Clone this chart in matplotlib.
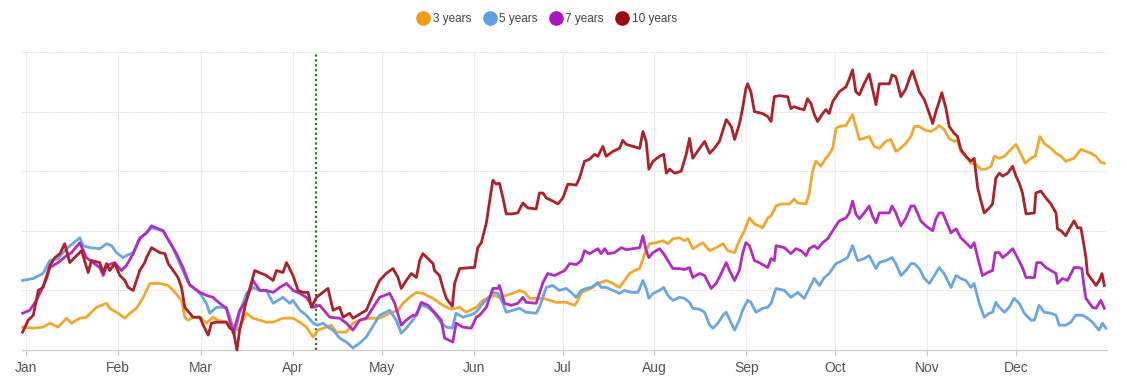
import matplotlib
matplotlib.use("Agg")
import matplotlib.pyplot as plt
from matplotlib.lines import Line2D

# ---- data (day of year, value) ----
months = ["Jan", "Feb", "Mar", "Apr", "May", "Jun", "Jul", "Aug", "Sep", "Oct", "Nov", "Dec"]
month_start = [0, 31, 59, 90, 120, 151, 181, 212, 243, 273, 304, 334]
marker_day = 98

days_3y = [-1.1, 2.5, 5.8, 8.1, 10.9, 13.7, 15.4, 18.2, 20.4, 23.8, 27.2, 28.3, 31.1, 33.4, 35.1, 37.3, 39.6, 41.8, 45.2, 48.0,
           49.7, 52.5, 53.6, 54.7, 56.4, 58.7, 60.9, 63.1, 64.8, 67.6, 69.9, 71.6, 74.4, 76.6, 78.9, 81.1, 83.4, 86.7, 90.1, 92.4,
           94.6, 96.9, 98.5, 101.3, 103.0, 104.7, 108.1, 110.3, 112.6, 116.0,
           119.3, 122.7, 125.5, 127.2, 129.4, 131.7, 133.9, 137.3, 140.6, 143.5, 146.3, 148.5, 151.9, 154.1, 156.4, 158.1, 159.7,
           162.0, 164.2, 166.5, 168.2, 169.9, 172.1, 174.4, 176.6, 178.9,
           182.2, 185.1, 186.2, 187.3, 189.0, 191.2, 192.9, 194.0, 195.7, 198.0, 200.2, 201.9, 203.6, 205.3, 207.0, 208.7, 210.3,
           212.6, 214.8, 216.5, 218.2, 220.4, 222.1, 223.3, 224.9, 226.6, 228.3, 230.6, 232.8, 235.1, 236.7, 239.0,
           240.6, 242.3, 244.0, 245.7, 248.5, 250.2, 251.3, 253.0, 254.6, 257.5, 259.1, 260.3, 263.1, 264.2, 265.3, 266.4, 268.1,
           269.8, 270.9, 272.1, 273.2, 274.3, 276.6, 278.8, 279.9, 281.1, 282.7, 284.4, 286.1, 287.8, 290.0, 291.7, 293.4, 294.5,
           296.8, 298.5, 299.6,
           301.3, 303.5, 305.2, 306.9, 308.0, 309.7, 311.4, 313.1, 314.2, 315.3, 317.0, 318.7, 320.4, 322.1, 323.8, 325.5, 326.6,
           328.3, 330.0, 331.6, 333.9, 335.6, 337.0, 338.9, 340.4, 342.0, 343.4, 345.7, 347.4, 349.1, 350.7, 353.5, 355.8, 357.5,
           359.2, 360.9, 362.5, 363.7]
vals_3y = [23, 22, 23, 27, 23, 32, 27, 32, 33, 43, 47, 42, 37, 32, 37, 42, 53, 67, 67, 65,
           60, 50, 33, 30, 33, 33, 27, 33, 30, 28, 25, 20, 37, 32, 30, 28, 28, 32, 32, 28,
           23, 13, 20, 23, 25, 18, 18, 27, 30, 32,
           32, 37, 40, 47, 53, 58, 57, 52, 45, 41, 43, 38, 43, 50, 53, 55, 53,
           55, 57, 60, 58, 52, 52, 52, 50, 48,
           48, 45, 50, 58, 60, 63, 67, 68, 70, 67, 63, 70, 77, 80, 82, 97, 107,
           108, 110, 107, 112, 113, 110, 112, 102, 105, 108, 100, 103, 107, 100, 98,
           110, 120, 133, 127, 123, 133, 135, 145, 147, 147, 152, 148, 147, 158, 180, 190, 185,
           193, 197, 203, 223, 225, 226, 237, 225, 212, 213, 215, 205, 203, 210, 212, 200, 202,
           208, 215, 225,
           225, 221, 220, 223, 226, 222, 213, 210, 211, 200, 195, 188, 187, 182, 182, 185, 195,
           193, 195, 200, 207, 197, 188, 193, 195, 215, 208, 203, 198, 195, 190, 193, 202, 200,
           198, 195, 189, 188]

days_5y = [-1.1, 2.5, 5.8, 8.1, 10.9, 13.7, 18.2, 19.3, 21.6, 24.9, 27.2, 28.9, 30.6, 32.8, 33.9, 36.2, 38.4, 40.7, 42.4, 46.3,
           49.7, 52.5, 54.7, 56.4, 58.7, 60.9, 62.0, 64.3, 67.6, 68.8, 70.4, 72.1, 74.4, 76.6, 78.9, 81.1, 83.4, 86.7, 89.0, 90.1,
           92.4, 94.6, 96.9, 98.5, 100.2, 101.9, 103.6, 105.8, 108.1, 110.3, 112.6, 114.8,
           119.3, 122.7, 124.9, 126.6, 128.3, 130.5, 133.3, 135.6, 137.8, 140.1, 141.8, 143.8, 145.1, 147.4, 149.6, 151.3, 152.4,
           154.1, 155.8, 157.5, 159.2, 160.9, 162.0, 164.2, 166.5, 168.7, 172.1, 173.2, 175.5, 177.7, 179.9,
           182.2, 183.9, 185.6, 187.3, 189.0, 190.7, 192.9, 194.0, 195.7, 198.0, 200.2, 201.9, 204.2, 206.4, 208.1, 209.2, 210.1,
           211.5, 213.7, 215.1, 216.5, 218.2, 220.4, 222.1, 223.8, 224.9, 227.2, 228.9, 230.6, 231.7, 233.4, 235.1, 236.2, 237.9,
           239.0,
           240.6, 241.7, 243.4, 244.5, 246.2, 248.5, 250.2, 251.3, 253.0, 255.8, 258.0, 260.3, 262.5, 264.2, 265.9, 267.6, 269.3,
           270.9, 273.2, 275.4, 277.1, 278.8, 280.5, 282.7, 284.4, 286.7, 287.8, 290.0, 292.1, 293.4, 295.1, 296.8, 298.5, 299.6,
           301.3, 303.0, 304.7, 306.4, 308.0, 309.7, 312.0, 313.7, 315.3, 317.0, 318.7, 319.8, 321.5, 323.2, 324.9, 326.0, 327.1,
           328.3, 330.0, 331.6, 333.3, 335.0, 336.7, 339.0, 340.1, 341.7, 343.4, 345.7, 347.4, 348.5, 350.7, 352.4, 354.1, 356.4,
           358.0, 359.7, 361.9, 363.1, 364.2]
vals_5y = [70, 72, 77, 90, 92, 102, 113, 105, 103, 102, 107, 105, 98, 93, 95, 98, 113, 118, 123, 120,
           102, 83, 68, 63, 57, 47, 37, 43, 43, 33, 17, 37, 57, 63, 60, 60, 47, 53, 47, 50,
           40, 35, 27, 25, 27, 23, 20, 12, 8, 2, 7, 13,
           35, 40, 30, 17, 22, 30, 45, 43, 37, 27, 23, 22, 37, 33, 35, 37, 40,
           47, 52, 58, 57, 47, 38, 40, 42, 38, 37, 43, 63, 65, 60,
           62, 58, 53, 60, 62, 63, 68, 63, 63, 60, 57, 60, 58, 58, 70, 62, 52,
           57, 60, 63, 55, 50, 53, 52, 48, 42, 41, 38, 25, 22, 27, 35, 38, 27,
           20,
           30, 40, 50, 48, 38, 42, 43, 47, 62, 60, 53, 58, 52, 62, 72, 65, 73,
           77, 87, 90, 93, 105, 90, 92, 95, 82, 88, 90, 93, 87, 75, 80, 87, 87,
           82, 72, 67, 75, 83, 77, 63, 75, 72, 70, 63, 67, 47, 33, 37, 38, 48,
           43, 38, 43, 52, 47, 37, 30, 30, 45, 38, 37, 35, 25, 25, 28, 35, 35,
           32, 28, 20, 27, 22]

days_7y = [-1.1, 1.3, 3.6, 7.0, 8.1, 10.9, 13.7, 15.4, 18.2, 20.4, 22.7, 24.9, 26.1, 27.2, 30.0, 32.2, 33.9, 36.2, 38.4, 40.7,
           42.4, 46.3, 50.8, 53.0, 55.3, 56.4, 58.7, 60.9, 63.1, 65.4, 67.6, 69.9, 72.1, 74.4, 76.6, 78.9, 81.1, 83.4, 85.6, 87.9,
           90.1, 92.4, 94.6, 96.9, 99.1, 102.5, 105.8, 108.1, 110.3, 112.6, 114.8,
           119.3, 122.7, 124.4, 126.6, 128.3, 130.5, 131.7, 133.3, 135.6, 137.8, 140.1, 141.2, 144.0, 145.1, 147.4, 150.2, 151.9,
           153.0, 155.3, 157.5, 159.2, 159.7, 161.4, 163.7, 165.9, 167.6, 168.7, 172.1, 174.4, 176.0, 178.3,
           181.7, 183.4, 185.6, 187.3, 188.4, 190.1, 191.8, 192.9, 194.0, 195.2, 196.3, 198.5, 200.8, 202.5, 204.7, 207.0, 208.1,
           209.2, 210.1, 211.5, 213.7, 215.1, 216.5, 218.2, 220.4, 222.1, 223.8, 224.9, 227.2, 228.9, 231.1, 232.8, 234.5, 236.2,
           237.3, 239.0,
           240.6, 241.7, 242.8, 244.0, 245.7, 247.3, 250.2, 251.3, 252.4, 253.0, 255.8, 258.0, 259.7, 261.4, 263.1, 264.2, 265.9,
           267.0, 268.7, 270.4, 272.1, 274.3, 276.6, 277.7, 278.8, 279.9, 281.1, 282.7, 284.4, 285.5, 286.7, 287.8, 290.0, 291.2,
           292.1, 293.4, 295.1, 296.8, 298.5, 299.6, 300.7, 301.8,
           303.5, 305.8, 306.9, 308.0, 309.2, 310.3, 312.0, 313.7, 315.3, 317.0, 318.7, 319.8, 321.0, 322.6, 324.3, 326.0, 326.9,
           328.3, 329.4, 331.1, 332.8, 334.4, 336.1, 337.3, 340.1, 340.9, 342.3, 344.0, 345.7, 347.4, 347.9, 349.6, 351.3, 353.5,
           355.0, 356.1, 356.9, 357.5, 359.7, 360.9, 362.5, 363.7]
vals_7y = [37, 40, 50, 72, 83, 88, 95, 98, 108, 93, 88, 83, 75, 85, 88, 80, 85, 97, 112, 118,
           125, 120, 97, 83, 65, 63, 58, 55, 53, 47, 42, 17, 40, 50, 70, 60, 60, 58, 63, 67,
           60, 57, 53, 43, 45, 33, 32, 27, 20, 30, 32,
           53, 57, 47, 25, 30, 35, 35, 48, 45, 38, 30, 12, 8, 27, 23, 22, 33,
           35, 43, 62, 62, 65, 47, 45, 47, 53, 48, 47, 68, 77, 75,
           80, 87, 86, 90, 100, 97, 100, 102, 97, 102, 97, 98, 103, 101, 102, 103, 115,
           100, 93, 98, 102, 97, 90, 82, 82, 81, 83, 73, 77, 75, 62, 67, 77, 88,
           80, 70,
           80, 97, 108, 105, 90, 88, 83, 92, 90, 105, 103, 97, 102, 100, 95, 102, 105,
           102, 108, 112, 120, 130, 133, 138, 150, 137, 132, 138, 145, 135, 128, 138, 138, 138,
           145, 138, 125, 133, 145, 145, 138, 130,
           125, 120, 132, 138, 138, 130, 118, 122, 113, 108, 103, 108, 93, 75, 78, 80, 98,
           98, 93, 97, 102, 93, 83, 73, 73, 88, 88, 83, 80, 77, 67, 72, 70, 83,
           83, 82, 63, 52, 43, 42, 50, 42]

days_10y = [-1.1, 0.8, 2.5, 4.2, 5.8, 8.1, 9.8, 11.5, 13.1, 14.8, 17.1, 18.8, 21.0, 22.1, 24.9, 26.1, 27.2, 28.3, 30.0, 31.7,
            33.4, 34.5, 36.2, 38.4, 40.1, 40.7, 42.4, 45.2, 46.9, 48.0, 49.7, 51.3, 52.5, 53.6, 55.3, 56.4, 58.7, 59.8, 61.5, 62.6,
            64.3, 67.6, 68.8, 69.9, 71.2, 72.1, 74.4, 77.2, 81.1, 83.4, 84.5, 86.7, 87.9, 90.1, 91.8, 93.5, 95.2, 96.3, 98.0, 99.7,
            101.9, 103.6, 105.8, 107.0, 109.2, 110.3, 112.0, 114.8, 118.2,
            119.3, 121.5, 123.8, 125.5, 126.6, 128.3, 130.0, 131.7, 132.8, 133.9, 135.6, 137.3, 137.8, 139.5, 140.6, 141.8, 143.8,
            144.6, 146.3, 150.2, 151.3, 152.4, 153.6, 155.3, 156.4, 157.5, 158.6, 159.7, 160.9, 162.0, 163.7, 165.9, 167.6, 169.3,
            172.1, 173.2, 174.4, 175.5, 177.7, 179.4,
            181.1, 182.8, 185.6, 186.7, 188.4, 190.1, 191.8, 192.9, 194.6, 195.7, 198.0, 200.2, 201.3, 202.5, 204.7, 207.0, 208.1,
            209.2, 210.1, 211.5, 213.7, 215.1, 216.0, 217.1, 218.8, 221.0, 222.7, 223.8, 224.9, 227.2, 228.9, 230.6, 232.2, 233.9,
            236.2, 237.9, 239.0,
            240.6, 241.7, 242.8, 243.4, 244.5, 245.7, 248.5, 250.2, 251.3, 252.4, 254.1, 256.9, 258.0, 259.1, 260.8, 262.5, 263.6,
            264.8, 265.9, 267.0, 268.7, 269.8, 270.9, 272.1, 274.3, 276.6, 277.7, 278.8, 279.9, 281.1, 282.7, 284.4, 285.5, 286.7,
            287.8, 290.0, 291.2, 292.1, 293.4, 295.1, 296.8, 297.9, 299.0, 300.2,
            301.3, 303.0, 304.7, 305.8, 306.9, 308.0, 308.9, 310.3, 311.4, 313.1, 314.2, 315.3, 317.0, 318.7, 319.8, 321.0, 322.1,
            323.2, 324.9, 326.0, 327.1, 328.3, 329.4, 331.1, 332.8, 333.9, 335.0, 336.1, 337.3, 340.1, 340.6, 342.3, 344.0, 345.7,
            347.4, 347.9, 349.1, 350.7, 351.9, 353.5, 354.7, 355.8, 356.4, 357.5, 358.0, 359.7, 360.9, 362.0, 362.9, 363.7]
vals_10y = [18, 30, 35, 60, 63, 85, 93, 97, 107, 88, 95, 100, 78, 90, 88, 78, 87, 80, 87, 75,
            70, 63, 60, 80, 88, 93, 103, 98, 97, 87, 80, 73, 63, 43, 37, 33, 33, 25, 15, 27,
            28, 28, 22, 20, 0, 20, 50, 80, 75, 70, 80, 78, 88, 75, 60, 58, 58, 43, 53, 57,
            62, 40, 43, 33, 37, 32, 35, 40, 63,
            70, 77, 82, 73, 62, 70, 77, 73, 90, 97, 92, 87, 80, 75, 63, 52, 44,
            67, 82, 83, 83, 103, 108, 128, 150, 171, 167, 168, 153, 137, 137, 138, 148, 143,
            142, 158, 158, 153, 150, 147,
            153, 167, 166, 173, 190, 192, 197, 195, 205, 195, 200, 203, 211, 207, 205, 203, 220,
            210, 182, 190, 195, 197, 178, 182, 178, 180, 197, 213, 193, 203, 210, 198, 203, 210,
            232, 225, 212,
            227, 243, 263, 268, 260, 240, 238, 235, 230, 255, 256, 255, 243, 245, 243, 242, 253,
            248, 237, 230, 238, 242, 238, 250, 260, 265, 273, 282, 260, 257, 268, 278, 263, 247,
            268, 268, 268, 277, 275, 255, 263, 273, 281, 270,
            260, 252, 238, 228, 240, 250, 259, 243, 225, 218, 215, 202, 195, 190, 193, 163, 150,
            138, 143, 147, 173, 178, 175, 178, 185, 175, 168, 158, 137, 138, 158, 160, 153, 147,
            138, 122, 120, 115, 122, 130, 123, 123, 113, 93, 77, 70, 65, 70, 77, 65]

series_names = ["3 years", "5 years", "7 years", "10 years"]
line_colors = ["#F0A830", "#6AA6E2", "#B42BC2", "#AE2128"]
legend_colors = ["#F39C12", "#5DA0E6", "#A815C2", "#9E0B0F"]

# ---- figure ----
plt.rcParams["font.family"] = ["Liberation Sans", "DejaVu Sans"]
fig = plt.figure(figsize=(11.27, 3.84), dpi=100)
ax = fig.add_axes([22 / 1127, 34 / 384, (1107 - 22) / 1127, (350 - 52) / 384])

for d, v, c in zip([days_3y, days_5y, days_7y, days_10y],
                   [vals_3y, vals_5y, vals_7y, vals_10y], line_colors):
    ax.plot(d, v, color=c, lw=2.0, solid_joinstyle="round", clip_on=False, zorder=3)

ax.set_xlim(-1.3, 364.6)
ax.set_ylim(0, 300)

# grid
for y in [60, 120, 180, 240, 300]:
    ax.axhline(y, color="#d9d9d9", lw=0.8, ls=(0, (1, 1)), zorder=1)
for m in month_start:
    ax.axvline(m, color="#eeeeee", lw=0.8, zorder=0.5)

ax.axvline(marker_day, color="#1F7A1F", lw=1.6, ls=(0, (1, 1.2)), zorder=2)

ax.set_xticks(month_start)
ax.set_xticklabels(months, fontsize=10, color="#555555")
ax.set_yticks([])
ax.tick_params(axis="x", length=4, width=0.8, color="#cccccc", pad=4)
for s in ["top", "right", "left"]:
    ax.spines[s].set_visible(False)
ax.spines["bottom"].set_color("#cccccc")
ax.spines["bottom"].set_linewidth(0.9)

handles = [Line2D([], [], ls="none", marker="o", markersize=9.5, markerfacecolor=c,
                  markeredgecolor=c) for c in legend_colors]
fig.legend(handles, series_names, loc="center", bbox_to_anchor=(548 / 1127, 1 - 19 / 384),
           ncol=4, frameon=False, fontsize=8.5, handletextpad=0.45, columnspacing=1.2,
           handlelength=0.7, labelcolor="#444444")

fig.savefig("out.png", dpi=100, facecolor="white")
